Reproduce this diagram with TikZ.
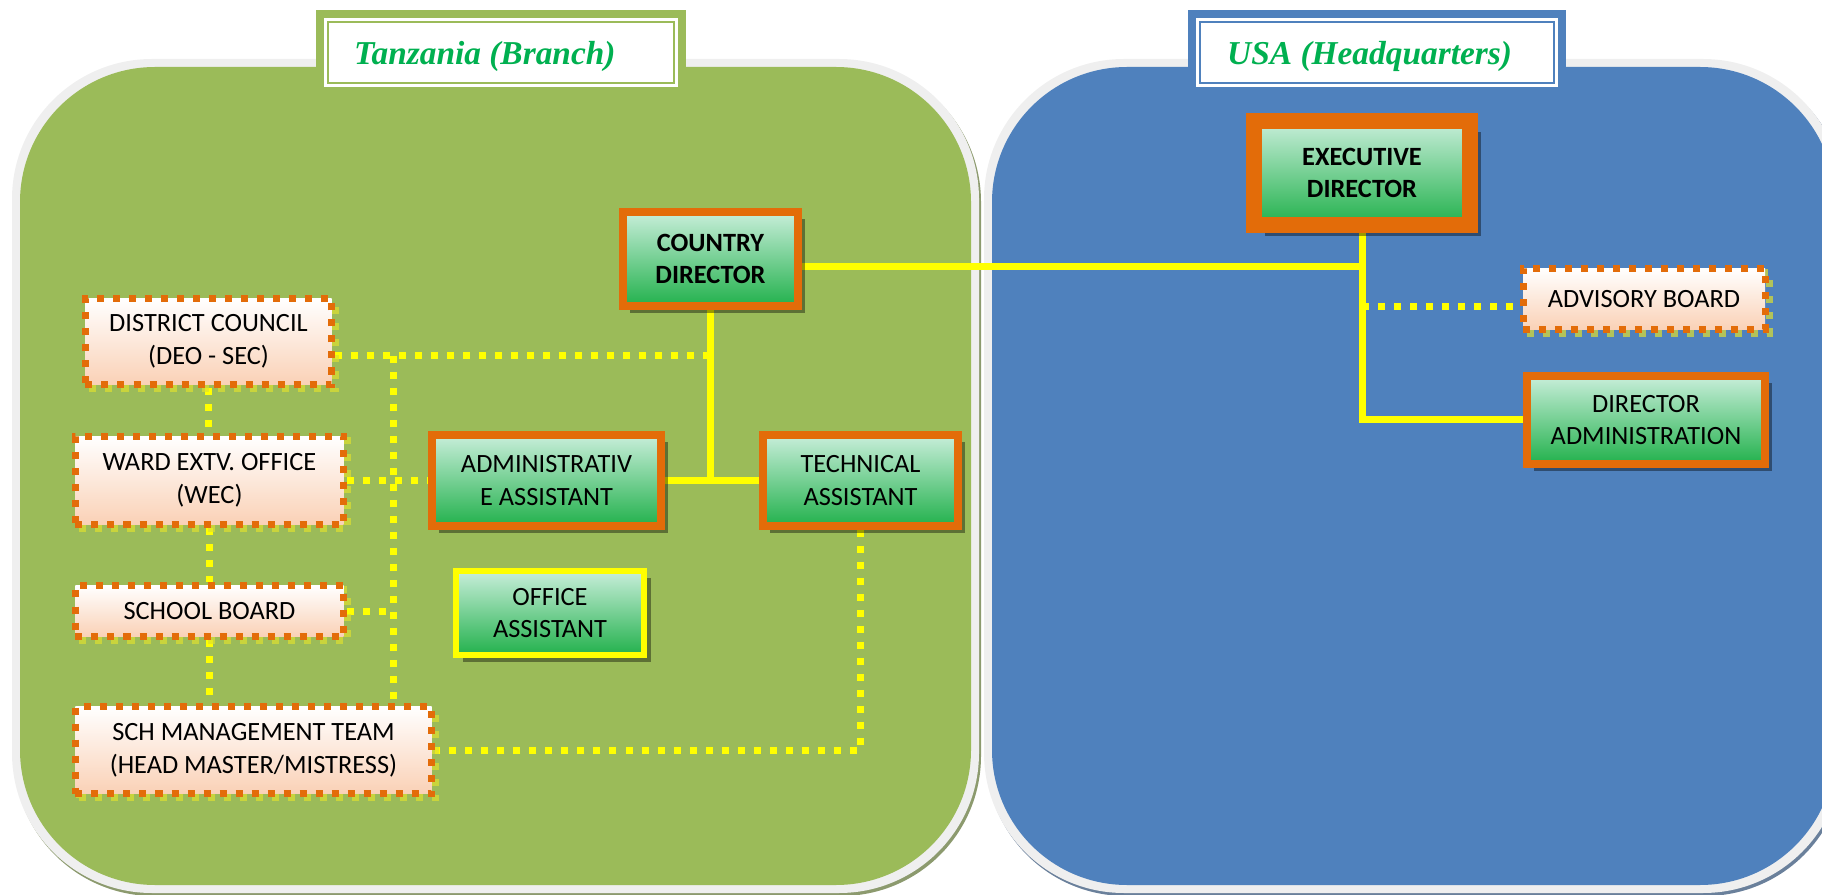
\documentclass[tikz,border=0pt]{standalone}
\usepackage{fontspec}
\setmainfont{Carlito}
\newfontfamily\titlefont{Liberation Serif}
\usetikzlibrary{shadows}

\definecolor{branchgreen}{HTML}{9BBB59}
\definecolor{hqblue}{HTML}{4F81BD}
\definecolor{rimgray}{HTML}{EFEFEF}
\definecolor{boxorange}{HTML}{E36C09}
\definecolor{linkyellow}{HTML}{FFFF00}
\definecolor{titlegreen}{HTML}{00B050}
\definecolor{mint}{HTML}{C8EEDA}
\definecolor{leaf}{HTML}{22B14C}
\definecolor{peach}{HTML}{FAD1B6}
\definecolor{lime}{HTML}{DDE030}

\newcommand\boxfont{\fontsize{15}{18.7}\selectfont}
\newcommand\headfont{\titlefont\bfseries\itshape\fontsize{19}{22}\selectfont}

\pgfdeclarelayer{panels}
\pgfdeclarelayer{links}
\pgfsetlayers{panels,links,main}

\begin{document}
\begin{tikzpicture}[x=0.2mm,y=-0.2mm,
  staff/.style={draw=boxorange, line width=1.6mm, top color=mint, bottom color=leaf,
    align=center, inner sep=0pt, font=\boxfont,
    drop shadow={shadow xshift=#1, shadow yshift=-#1, opacity=0.4, fill=black}},
  staff/.default=1.4mm,
  partner/.style={draw=boxorange, line width=1.4mm, dash pattern=on 1.4mm off 1.8mm,
    top color=white, bottom color=peach, align=center, inner sep=0pt, font=\boxfont,
    preaction={draw=lime, draw opacity=0.7, line width=1.4mm, dash pattern=on 1.4mm off 1.8mm,
      transform canvas={shift={(0.8mm,-0.8mm)}}}},
  solidlink/.style={draw=linkyellow, line width=1.4mm},
  dotlink/.style={draw=linkyellow, line width=1.4mm, dash pattern=on 1.4mm off 1.8mm}]
\useasboundingbox (0,0) rectangle (1822,895);

\begin{pgfonlayer}{panels}
\begin{scope}
\clip (0,0) rectangle (1822,895);
% Tanzania panel
\fill[rounded corners=28mm, branchgreen!45!gray] (14,62) rectangle (981,896);
\fill[rounded corners=28mm, rimgray] (12,59) rectangle (979,893);
\fill[rounded corners=27mm, branchgreen] (20,67) rectangle (971,885);
% USA panel
\fill[rounded corners=28mm, hqblue!45!gray] (986,62) rectangle (1845,896);
\fill[rounded corners=28mm, rimgray] (984,59) rectangle (1843,893);
\fill[rounded corners=27mm, hqblue] (992,67) rectangle (1835,885);
\end{scope}
% title frames
\fill[branchgreen] (316,10) rectangle (686,87);
\fill[white] (324,18) rectangle (678,87);
\draw[branchgreen, line width=0.5mm] (328,22) rectangle (674,83);
\fill[hqblue] (1188,10) rectangle (1566,87);
\fill[white] (1196,18) rectangle (1558,87);
\draw[hqblue, line width=0.5mm] (1200,22) rectangle (1554,83);
\end{pgfonlayer}

\node[anchor=base west, text=titlegreen, font=\headfont] (tztitle) at (348,65) {Tanzania (Branch)};
\node[anchor=base west, text=titlegreen, font=\headfont] (usatitle) at (1221,65) {USA (Headquarters)};

% headquarters
\node[staff=2.2mm, line width=3.2mm, minimum width=43.2mm, minimum height=20.8mm, font=\boxfont\bfseries] (ed) at (1362,173) {EXECUTIVE\\DIRECTOR};
\node[partner, minimum width=48.4mm, minimum height=12.2mm] (adv) at (1644,299) {ADVISORY BOARD};
\node[staff, minimum width=47.6mm, minimum height=17.6mm] (da) at (1646,420) {DIRECTOR\\ADMINISTRATION};

% branch
\node[staff, minimum width=35mm, minimum height=18.8mm, font=\boxfont\bfseries] (cd) at (710.5,259) {COUNTRY\\DIRECTOR};
\node[staff, minimum width=45.8mm, minimum height=18.2mm] (aa) at (546.5,480.5) {ADMINISTRATIV\\E ASSISTANT};
\node[staff, minimum width=39mm, minimum height=18.2mm] (ta) at (860.5,480.5) {TECHNICAL\\ASSISTANT};
\node[staff, draw=linkyellow, line width=1.2mm, minimum width=37.6mm, minimum height=16.8mm] (oa) at (550,613) {OFFICE\\ASSISTANT};

\node[partner, minimum width=49.2mm, minimum height=17.2mm] (dc) at (208.5,341.5) {DISTRICT COUNCIL\\(DEO - SEC)};
\node[partner, minimum width=53.6mm, minimum height=17.6mm] (ward) at (209.5,480.5) {WARD EXTV. OFFICE\\(WEC)};
\node[partner, minimum width=53.6mm, minimum height=10.2mm] (sb) at (209.5,611) {SCHOOL BOARD};
\node[partner, minimum width=71.2mm, minimum height=17.4mm] (smt) at (253.5,750) {SCH MANAGEMENT TEAM\\(HEAD MASTER/MISTRESS)};

\coordinate (cdout) at ([yshift=-1.6mm]cd.east);
\coordinate (advin) at ([yshift=-1.6mm]adv.west);
\coordinate (dcout) at ([yshift=-2.9mm]dc.east);
\coordinate (spine) at (393,356);

\begin{pgfonlayer}{links}
\draw[solidlink] (cdout) -- (cdout -| ed.south);
\draw[solidlink] (ed.south) |- (da.west);
\draw[dotlink] (advin -| ed.south) -- (advin);
\draw[solidlink] (cd.south) -- (cd.south |- aa.east);
\draw[solidlink] (aa.east) -- (ta.west);
\draw[dotlink] (dcout) -- (dcout -| cd.south);
\draw[dotlink] (spine) -- (spine |- smt.north);
\draw[dotlink] (ward.east) -- (aa.west);
\draw[dotlink] (sb.east) -- (sb.east -| spine);
\draw[dotlink] (dc.south) -- (dc.south |- ward.north);
\draw[dotlink] (ward.south) -- (sb.north);
\draw[dotlink] (sb.south) -- (sb.south |- smt.north);
\draw[dotlink] (ta.south) |- (smt.east);
\end{pgfonlayer}
\end{tikzpicture}
\end{document}
